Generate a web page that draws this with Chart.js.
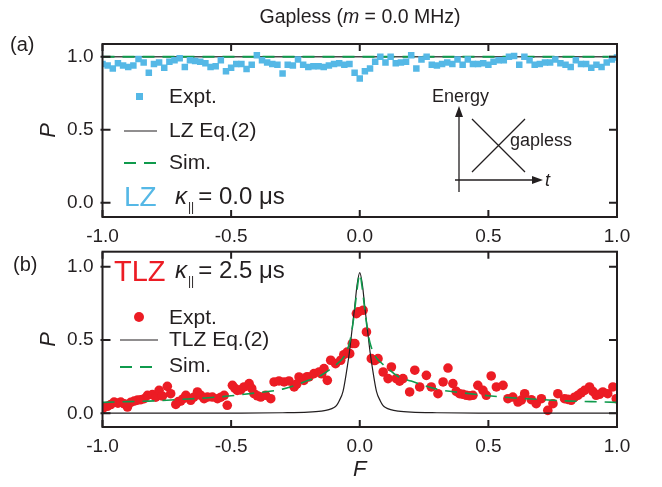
<!DOCTYPE html>
<html>
<head>
<meta charset="utf-8">
<title>Gapless LZ / TLZ</title>
<script src="https://cdn.jsdelivr.net/npm/chart.js@4"></script>
<style>
  html, body { margin: 0; padding: 0; background: #fff; }
  #wrap { position: relative; width: 662px; height: 487px; }
  #chartA { position: absolute; left: 0; top: 0; }
  #chartB { position: absolute; left: 0; top: 240px; }
</style>
</head>
<body>
<div id="wrap">
  <canvas id="chartA" width="662" height="250"></canvas>
  <canvas id="chartB" width="662" height="247"></canvas>
</div>
<script>
// ---- data -------------------------------------------------------------
const xTicks = [-1, -0.5, 0, 0.5, 1];
const yTicks = [0, 0.5, 1];

// (a) LZ, kappa = 0
const lzF = [
  -1.00, -0.98, -0.96, -0.94, -0.92, -0.90, -0.88, -0.86, -0.84, -0.82,
  -0.80, -0.78, -0.76, -0.74, -0.72, -0.70, -0.68, -0.66, -0.64, -0.62,
  -0.60, -0.58, -0.56, -0.54, -0.52, -0.50, -0.48, -0.46, -0.44, -0.42,
  -0.40, -0.38, -0.36, -0.34, -0.32, -0.30, -0.28, -0.26, -0.24, -0.22,
  -0.20, -0.18, -0.16, -0.14, -0.12, -0.10, -0.08, -0.06, -0.04, -0.02,
   0.00,  0.02,  0.04,  0.06,  0.08,  0.10,  0.12,  0.14,  0.16,  0.18,
   0.20,  0.22,  0.24,  0.26,  0.28,  0.30,  0.32,  0.34,  0.36,  0.38,
   0.40,  0.42,  0.44,  0.46,  0.48,  0.50,  0.52,  0.54,  0.56,  0.58,
   0.60,  0.62,  0.64,  0.66,  0.68,  0.70,  0.72,  0.74,  0.76,  0.78,
   0.80,  0.82,  0.84,  0.86,  0.88,  0.90,  0.92,  0.94,  0.96,  0.98,
   1.00
];
const lzP = [
  0.950, 0.940, 0.920, 0.955, 0.940, 0.930, 0.940, 0.985, 0.960, 0.890,
  0.950, 0.960, 0.925, 0.965, 0.975, 0.990, 0.930, 0.975, 0.970, 0.965,
  0.955, 0.930, 0.935, 0.975, 0.900, 0.925, 0.950, 0.950, 0.915, 0.945,
  1.010, 0.975, 0.960, 0.950, 0.945, 0.885, 0.945, 0.940, 0.980, 0.945,
  0.930, 0.935, 0.935, 0.930, 0.940, 0.950, 0.955, 0.945, 0.950, 0.890,
  0.850, 0.900, 0.920, 0.965, 1.000, 0.960, 1.000, 0.955, 0.960, 0.965,
  1.010, 0.920, 0.980, 1.000, 0.945, 0.940, 0.950, 0.960, 0.950, 0.980,
  0.945, 0.980, 0.950, 0.950, 0.955, 0.945, 0.965, 0.975, 0.975, 1.000,
  1.005, 0.945, 1.000, 0.975, 0.945, 0.950, 0.960, 0.960, 0.980, 0.955,
  0.945, 0.930, 0.975, 0.950, 0.950, 0.925, 0.945, 0.930, 0.960, 0.980,
  0.995
];
const lzEqF = [-1, 1];
const lzEqP = [1, 1];
const lzSimF = [-1, 1];
const lzSimP = [1, 1];

// (b) TLZ, kappa = 2.5 us
const tlzF = [
  -1.000, -0.990, -0.981, -0.968, -0.955, -0.940, -0.929, -0.915, -0.903, -0.890,
  -0.877, -0.864, -0.851, -0.838, -0.825, -0.806, -0.793, -0.780, -0.767, -0.748,
  -0.735, -0.715, -0.705, -0.696, -0.686, -0.676, -0.657, -0.645, -0.631, -0.618,
  -0.605, -0.592, -0.573, -0.553, -0.540, -0.527, -0.515, -0.495, -0.485, -0.476,
  -0.463, -0.450, -0.430, -0.420, -0.411, -0.398, -0.385, -0.366, -0.346, -0.333,
  -0.314, -0.294, -0.275, -0.255, -0.245, -0.236, -0.217, -0.205, -0.197, -0.178,
  -0.158, -0.148, -0.139, -0.126, -0.113, -0.094, -0.074, -0.062, -0.049, -0.039,
  -0.029, -0.019, -0.013, -0.006,  0.013,  0.026,  0.045,  0.058,  0.071,  0.091,
   0.110,  0.123,  0.142,  0.155,  0.168,  0.194,  0.214,  0.233,  0.259,  0.278,
   0.304,  0.324,  0.343,  0.362,  0.375,  0.388,  0.401,  0.414,  0.427,  0.440,
   0.459,  0.479,  0.492,  0.511,  0.531,  0.557,  0.576,  0.595,  0.615,  0.628,
   0.641,  0.667,  0.686,  0.706,  0.731,  0.751,  0.770,  0.796,  0.809,  0.822,
   0.835,  0.848,  0.861,  0.874,  0.893,  0.906,  0.919,  0.932,  0.945,  0.964,
   0.984,  0.997
];
const tlzP = [
  0.032, 0.045, 0.048, 0.060, 0.077, 0.070, 0.077, 0.065, 0.043, 0.075,
  0.084, 0.090, 0.093, 0.100, 0.123, 0.128, 0.110, 0.157, 0.118, 0.184,
  0.134, 0.061, 0.080, 0.084, 0.100, 0.123, 0.089, 0.110, 0.146, 0.123,
  0.100, 0.111, 0.111, 0.100, 0.110, 0.123, 0.055, 0.191, 0.170, 0.157,
  0.160, 0.180, 0.203, 0.170, 0.134, 0.120, 0.111, 0.123, 0.100, 0.214,
  0.221, 0.214, 0.221, 0.180, 0.200, 0.248, 0.225, 0.250, 0.248, 0.271,
  0.282, 0.270, 0.305, 0.225, 0.362, 0.339, 0.362, 0.400, 0.418, 0.407,
  0.476, 0.476, 0.680, 0.692, 0.703, 0.555, 0.373, 0.360, 0.373, 0.282,
  0.237, 0.316, 0.237, 0.220, 0.237, 0.146, 0.294, 0.180, 0.259, 0.180,
  0.134, 0.214, 0.309, 0.203, 0.150, 0.134, 0.130, 0.123, 0.120, 0.123,
  0.191, 0.157, 0.123, 0.255, 0.180, 0.191, 0.100, 0.111, 0.077, 0.090,
  0.134, 0.093, 0.066, 0.100, 0.020, 0.066, 0.134, 0.100, 0.095, 0.089,
  0.110, 0.123, 0.140, 0.157, 0.180, 0.150, 0.123, 0.130, 0.146, 0.134,
  0.180, 0.100
];
const tlzEqF = [-1, -0.5, -0.3, -0.2, -0.15, -0.12, -0.1, -0.09, -0.08, -0.065, -0.05, -0.04, -0.03, -0.02, -0.01, 0,
                0.01, 0.02, 0.03, 0.04, 0.05, 0.065, 0.08, 0.09, 0.1, 0.12, 0.15, 0.2, 0.3, 0.5, 1];
const tlzEqP = [0.001, 0.002, 0.004, 0.008, 0.015, 0.025, 0.04, 0.055, 0.085, 0.15, 0.30, 0.42, 0.57, 0.72, 0.88, 0.96,
                0.88, 0.72, 0.57, 0.42, 0.30, 0.15, 0.085, 0.055, 0.04, 0.025, 0.015, 0.008, 0.004, 0.002, 0.001];
const tlzSimF = [-1, -0.9, -0.8, -0.7, -0.6, -0.5, -0.4, -0.3, -0.2, -0.15, -0.1, -0.08, -0.06, -0.04, -0.03, -0.02, -0.01, 0,
                 0.01, 0.02, 0.03, 0.04, 0.06, 0.08, 0.1, 0.15, 0.2, 0.3, 0.4, 0.5, 0.6, 0.7, 0.8, 0.9, 1];
const tlzSimP = [0.075, 0.08, 0.085, 0.095, 0.105, 0.12, 0.14, 0.165, 0.225, 0.26, 0.32, 0.35, 0.39, 0.48, 0.57, 0.70, 0.85, 0.95,
                 0.85, 0.70, 0.57, 0.48, 0.39, 0.35, 0.32, 0.25, 0.22, 0.165, 0.14, 0.12, 0.105, 0.095, 0.085, 0.08, 0.075];

// ---- styles -----------------------------------------------------------
const INK = '#231f20';
const BLUE = '#55b8e6';
const RED = '#ec1c24';
const GREEN = '#0f9a4c';
const FAMILY = "'Liberation Sans', Arial, sans-serif";
const DASH = [12, 8];

Chart.defaults.font.family = FAMILY;
Chart.defaults.color = INK;

function pts(xs, ys) {
    return xs.map((x, i) => ({ x: x, y: ys[i] }));
}

function font(size, style) {
    return (style ? style + ' ' : '') + size + 'px ' + FAMILY;
}

// text made of several runs with their own fonts, e.g. an italic symbol
function drawRuns(ctx, x, y, runs, align) {
    let total = 0;
    runs.forEach(r => { ctx.font = r[1]; total += ctx.measureText(r[0]).width + (r[3] || 0); });
    let cx = align === 'center' ? x - total / 2 : x;
    ctx.textAlign = 'left';
    runs.forEach(r => {
        ctx.font = r[1];
        ctx.fillText(r[0], cx, y + (r[2] || 0));
        cx += ctx.measureText(r[0]).width + (r[3] || 0);
    });
}

function kappaLabel(ctx, x, y, value) {
    ctx.fillStyle = INK;
    ctx.textBaseline = 'middle';
    drawRuns(ctx, x, y, [
        ['\u03BA', font(24, 'italic'), 0, 1],
        ['||', font(12), 11, 4],
        ['= ' + value + ' \u03BCs', font(24)]
    ]);
}

function legendLine(ctx, x0, x1, y, color, width, dash) {
    ctx.save();
    ctx.strokeStyle = color;
    ctx.lineWidth = width;
    ctx.setLineDash(dash || []);
    ctx.beginPath();
    ctx.moveTo(x0, y);
    ctx.lineTo(x1, y);
    ctx.stroke();
    ctx.restore();
}

function arrowHead(ctx, tipX, tipY, dir) {
    ctx.beginPath();
    if (dir === 'up') {
        ctx.moveTo(tipX, tipY);
        ctx.lineTo(tipX - 4, tipY + 11);
        ctx.lineTo(tipX + 4, tipY + 11);
    } else {
        ctx.moveTo(tipX, tipY);
        ctx.lineTo(tipX - 11, tipY - 4);
        ctx.lineTo(tipX - 11, tipY + 4);
    }
    ctx.closePath();
    ctx.fill();
}

// box round the plot with inward ticks on all four sides
const framePlugin = {
    id: 'frame',
    afterDatasetsDraw(chart) {
        const { ctx, chartArea: a, scales } = chart;
        ctx.save();
        ctx.strokeStyle = INK;
        ctx.lineWidth = 2;
        ctx.strokeRect(a.left, a.top, a.right - a.left, a.bottom - a.top);
        ctx.beginPath();
        xTicks.forEach(v => {
            const px = scales.x.getPixelForValue(v);
            ctx.moveTo(px, a.bottom); ctx.lineTo(px, a.bottom - 7);
            ctx.moveTo(px, a.top); ctx.lineTo(px, a.top + 7);
        });
        yTicks.forEach(v => {
            const py = scales.y.getPixelForValue(v);
            ctx.moveTo(a.left - 2, py); ctx.lineTo(a.left + 8, py);
            ctx.moveTo(a.right, py); ctx.lineTo(a.right - 8, py);
        });
        ctx.stroke();
        ctx.restore();
    }
};

const panelAText = {
    id: 'panelAText',
    afterDraw(chart) {
        const ctx = chart.ctx;
        ctx.save();
        ctx.fillStyle = INK;
        ctx.textBaseline = 'middle';
        drawRuns(ctx, 360, 18, [['Gapless (', font(19.5)], ['m', font(19.5, 'italic')], [' = 0.0 MHz)', font(19.5)]], 'center');
        ctx.font = font(20);
        ctx.fillText('(a)', 10, 45);

        // legend
        ctx.fillStyle = BLUE;
        ctx.fillRect(136, 93, 7, 7);
        legendLine(ctx, 124, 157, 131, INK, 1.2);
        legendLine(ctx, 124, 157, 163, GREEN, 2, DASH);
        ctx.fillStyle = INK;
        ctx.font = font(21);
        ctx.fillText('Expt.', 169, 97);
        ctx.fillText('LZ Eq.(2)', 169, 131);
        ctx.fillText('Sim.', 169, 163);

        ctx.fillStyle = BLUE;
        ctx.font = font(28);
        ctx.fillText('LZ', 124, 198);
        kappaLabel(ctx, 175, 197, '0.0');

        // inset: energy levels crossing in time
        ctx.fillStyle = INK;
        ctx.strokeStyle = INK;
        ctx.lineWidth = 1.3;
        ctx.font = font(18);
        ctx.fillText('Energy', 432, 97);
        ctx.fillText('gapless', 510, 141);
        ctx.font = font(18, 'italic');
        ctx.fillText('t', 545, 181);
        ctx.beginPath();
        ctx.moveTo(459, 192); ctx.lineTo(459, 112);
        ctx.moveTo(455, 180); ctx.lineTo(536, 180);
        ctx.moveTo(472, 119); ctx.lineTo(525, 172);
        ctx.moveTo(472, 172); ctx.lineTo(525, 119);
        ctx.stroke();
        arrowHead(ctx, 459, 106, 'up');
        arrowHead(ctx, 543, 180, 'right');
        ctx.restore();
    }
};

const panelBText = {
    id: 'panelBText',
    afterDraw(chart) {
        const ctx = chart.ctx;
        ctx.save();
        ctx.fillStyle = INK;
        ctx.textBaseline = 'middle';
        ctx.font = font(20);
        ctx.fillText('(b)', 13, 25);

        ctx.fillStyle = RED;
        ctx.font = font(29);
        ctx.fillText('TLZ', 114, 33);
        kappaLabel(ctx, 175, 31, '2.5');

        // legend
        ctx.fillStyle = RED;
        ctx.beginPath();
        ctx.arc(139, 77, 5, 0, Math.PI * 2);
        ctx.fill();
        legendLine(ctx, 120, 158, 100, INK, 1.2);
        legendLine(ctx, 120, 158, 127, GREEN, 2, DASH);
        ctx.fillStyle = INK;
        ctx.font = font(21);
        ctx.fillText('Expt.', 169, 78);
        ctx.fillText('TLZ Eq.(2)', 169, 100);
        ctx.fillText('Sim.', 169, 126);
        ctx.restore();
    }
};

function axes(yMin, yMax, xHeight, withXTitle) {
    return {
        x: {
            type: 'linear', min: -1, max: 1,
            grid: { display: false, drawTicks: false },
            border: { display: false },
            afterBuildTicks: s => { s.ticks = xTicks.map(v => ({ value: v })); },
            afterFit: s => { s.height = xHeight; s.paddingLeft = 0; s.paddingRight = 0; },
            ticks: { padding: 8, font: { size: 19 }, color: INK, callback: v => v.toFixed(1) },
            title: { display: withXTitle, text: 'F', color: INK, font: { size: 22, style: 'italic' }, padding: { top: 0, bottom: 4 } }
        },
        y: {
            type: 'linear', min: yMin, max: yMax,
            grid: { display: false, drawTicks: false },
            border: { display: false },
            afterBuildTicks: s => { s.ticks = yTicks.map(v => ({ value: v })); },
            afterFit: s => { s.width = 102.5; s.paddingTop = 0; s.paddingBottom = 0; },
            ticks: { padding: 9, font: { size: 19 }, color: INK, callback: v => v.toFixed(1) },
            title: { display: true, text: 'P', color: INK, font: { size: 22, style: 'italic' }, padding: { top: 36, bottom: 0 } }
        }
    };
}

const baseOptions = {
    responsive: false,
    animation: false,
    events: [],
    plugins: { legend: { display: false }, tooltip: { enabled: false } }
};

new Chart(document.getElementById('chartA'), {
    type: 'scatter',
    data: {
        datasets: [
            { label: 'Expt.', data: pts(lzF, lzP), pointStyle: 'rect', pointRadius: 4.6,
              backgroundColor: BLUE, borderWidth: 0, order: 0 },
            { label: 'Sim.', data: pts(lzSimF, lzSimP), showLine: true, borderColor: GREEN,
              borderWidth: 2, borderDash: DASH, pointRadius: 0, order: 1 },
            { label: 'LZ Eq.(2)', data: pts(lzEqF, lzEqP), showLine: true, borderColor: '#4a4a4a',
              borderWidth: 1.6, pointRadius: 0, order: 2 }
        ]
    },
    options: Object.assign({}, baseOptions, {
        layout: { padding: { top: 44, right: 45, left: 0, bottom: 0 } },
        scales: axes(-0.098, 1.087, 33, false)
    }),
    plugins: [framePlugin, panelAText]
});

new Chart(document.getElementById('chartB'), {
    type: 'scatter',
    data: {
        datasets: [
            { label: 'Sim.', data: pts(tlzSimF, tlzSimP), showLine: true, borderColor: GREEN,
              borderWidth: 1.6, borderDash: DASH, pointRadius: 0, cubicInterpolationMode: 'monotone', order: 0 },
            { label: 'TLZ Eq.(2)', data: pts(tlzEqF, tlzEqP), showLine: true, borderColor: INK,
              borderWidth: 1.2, pointRadius: 0, cubicInterpolationMode: 'monotone', order: 1 },
            { label: 'Expt.', data: pts(tlzF, tlzP), pointStyle: 'circle', pointRadius: 4.8,
              backgroundColor: RED, borderWidth: 0, order: 2 }
        ]
    },
    options: Object.assign({}, baseOptions, {
        layout: { padding: { top: 11.7, right: 45, left: 0, bottom: 0 } },
        scales: axes(-0.093, 1.102, 60, true)
    }),
    plugins: [framePlugin, panelBText]
});
</script>
</body>
</html>
